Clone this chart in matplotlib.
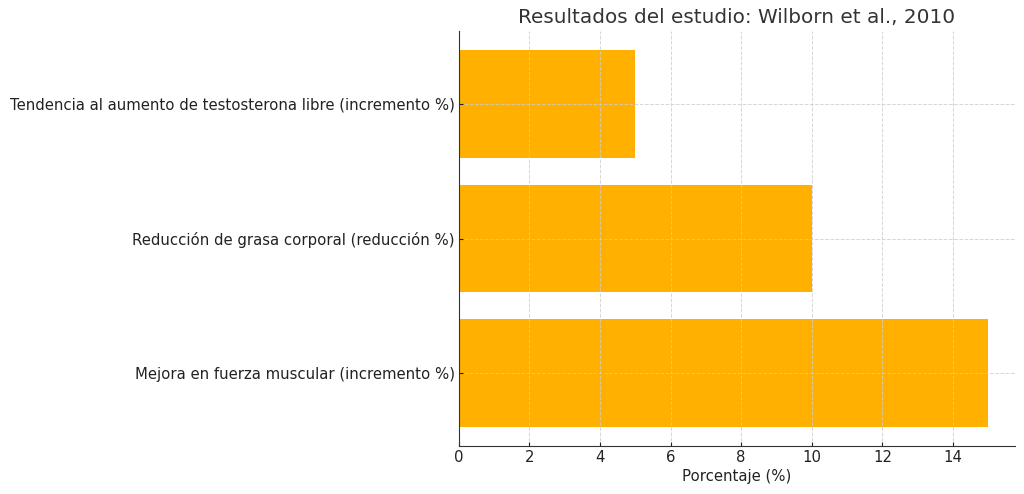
import matplotlib.pyplot as plt

# datos del estudio
categorias = [
    "Mejora en fuerza muscular (incremento %)",
    "Reducción de grasa corporal (reducción %)",
    "Tendencia al aumento de testosterona libre (incremento %)",
]
valores = [15, 10, 5]

fig, ax = plt.subplots(figsize=(10.24, 4.94), dpi=100)
ax.barh(categorias, valores, color="#FFB000", height=0.8)

ax.set_title("Resultados del estudio: Wilborn et al., 2010", fontsize=14.4, color="#333333")
ax.set_xlabel("Porcentaje (%)", fontsize=10.7, color="#222222", labelpad=3)
ax.tick_params(axis="both", labelsize=10.7, colors="#222222", direction="in", length=3, pad=3)
ax.set_axisbelow(False)
ax.grid(True, linestyle="--", color="#cccccc", linewidth=0.7, alpha=0.8)
ax.spines["top"].set_visible(False)
ax.spines["right"].set_visible(False)
for s in ["left", "bottom"]:
    ax.spines[s].set_color("#333333")
    ax.spines[s].set_zorder(5)

fig.subplots_adjust(left=0.448, right=0.991, top=0.937, bottom=0.097)
fig.savefig("out.png", dpi=100)
